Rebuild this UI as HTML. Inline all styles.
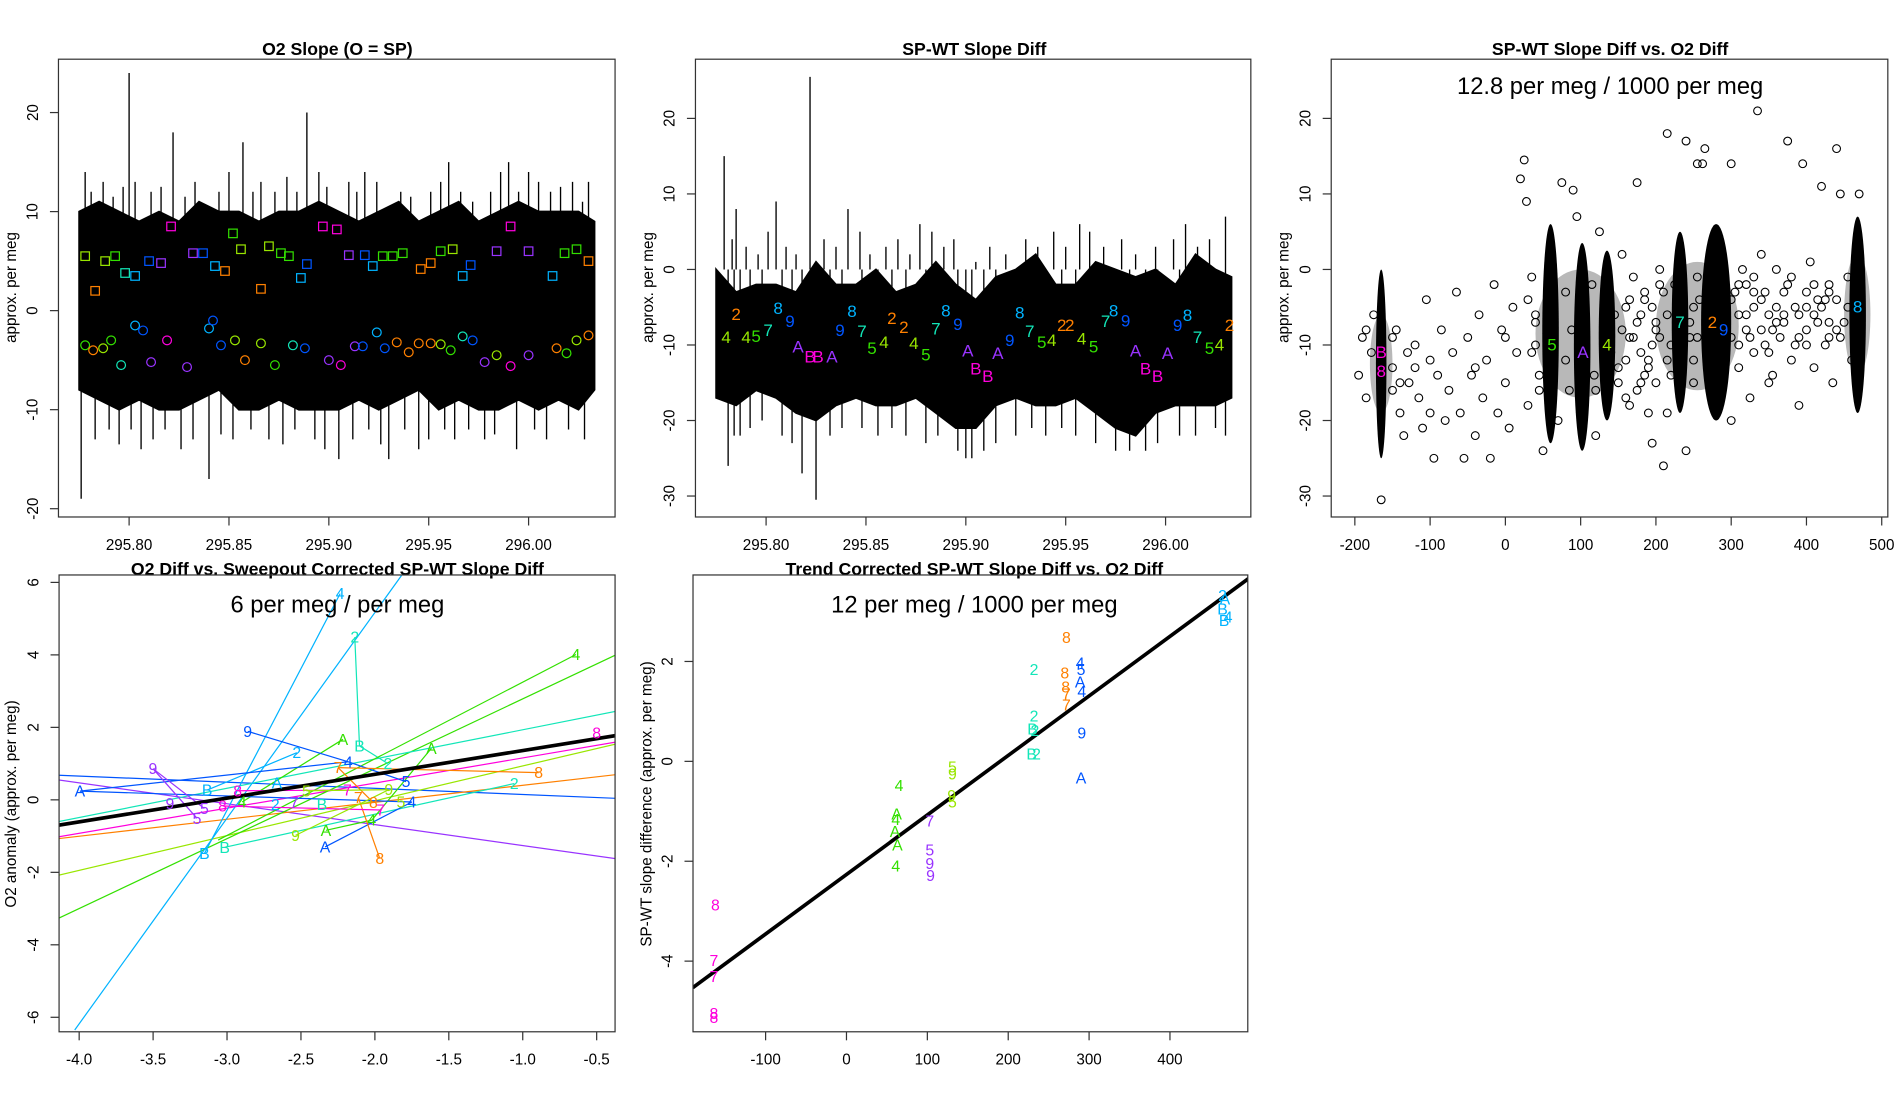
<!DOCTYPE html>
<html><head><meta charset="utf-8"><style>
html,body{margin:0;padding:0;background:#fff;}
svg{display:block;font-family:"Liberation Sans",sans-serif;}
</style></head><body>
<svg id="fig" xmlns="http://www.w3.org/2000/svg" width="1900" height="1100" viewBox="0 0 1560 903" preserveAspectRatio="none">
<defs>
<clipPath id="c1"><rect x="48" y="48.6" width="457" height="375.8"/></clipPath>
<clipPath id="c2"><rect x="571" y="48.6" width="456" height="375.8"/></clipPath>
<clipPath id="c3"><rect x="1093" y="48.6" width="457" height="375.8"/></clipPath>
<clipPath id="c4"><rect x="48.5" y="472" width="456.5" height="375"/></clipPath>
<clipPath id="c5"><rect x="569" y="472" width="455.5" height="375"/></clipPath>
</defs>
<g id="root"></g>
</svg>
<script>
// ---------- data ----------
const COL={O:'#ff8000',G:'#33e000',Y:'#99e600',T:'#12e6b8',C:'#00b3ff',B:'#0055ff',P:'#9933ff',M:'#ff00dd'};
const p1Times=[295.775,295.785,295.795,295.805,295.815,295.825,295.835,295.845,295.855,295.865,295.875,295.885,295.895,295.905,295.915,295.925,295.935,295.945,295.955,295.965,295.975,295.985,295.995,296.005,296.015,296.025,296.033];
const p1Upper=[10,11,10,9,10,9,11,10,10,9,10,10,11,10,9,10,11,9,10,11,9,10,11,10,10,10,9];
const p1Lower=[-8,-9,-10,-9,-10,-10,-9,-8,-10,-10,-9,-10,-10,-10,-9,-10,-9,-8,-10,-9,-10,-10,-9,-10,-9,-10,-8];
const p1Spikes=[[295.776,-19],[295.778,14],[295.800,24],[295.806,-14],[295.822,18],[295.840,-17],[295.857,17],[295.889,20],[295.905,-15],[295.918,14],[296.0,14],[296.03,13],[295.945,-14],[295.93,-15],[295.87,-13],[295.96,15],
[295.781,12],[295.787,13],[295.792,11.5],[295.797,12.5],[295.803,13],[295.811,12],[295.816,12.5],[295.828,11.5],[295.833,13],[295.845,12],[295.850,14],[295.862,12],[295.866,13],[295.873,12],[295.879,13.5],[295.884,12],[295.895,14],[295.899,12.5],[295.910,13],[295.914,12],[295.924,13],[295.936,12],[295.941,11.5],[295.951,12],[295.956,13],[295.966,12],[295.972,11],[295.981,12],[295.986,14],[295.990,15],[295.995,12],[296.005,13],[296.011,12],[296.016,12.5],[296.022,13],[296.027,11],
[295.783,-13],[295.790,-12],[295.795,-13.5],[295.801,-12],[295.812,-13],[295.818,-12],[295.826,-14],[295.832,-13],[295.846,-12.5],[295.852,-13],[295.861,-12],[295.877,-13.5],[295.883,-12],[295.893,-13],[295.898,-14],[295.912,-13],[295.920,-12],[295.926,-13.5],[295.938,-12],[295.950,-13],[295.958,-12],[295.963,-13],[295.970,-12],[295.978,-13],[295.983,-12.5],[295.994,-14],[296.003,-12],[296.009,-13],[296.020,-12],[296.028,-13]];
const p1Squares=[[295.778,5.5,'Y'],[295.783,2,'O'],[295.788,5,'Y'],[295.793,5.5,'G'],[295.798,3.8,'T'],[295.803,3.5,'C'],[295.810,5,'B'],[295.816,4.8,'P'],[295.821,8.5,'M'],[295.832,5.8,'P'],[295.837,5.8,'B'],[295.843,4.5,'C'],[295.848,4,'O'],[295.852,7.8,'G'],[295.856,6.2,'Y'],[295.866,2.2,'O'],[295.870,6.5,'Y'],[295.876,5.8,'G'],[295.880,5.5,'G'],[295.886,3.3,'C'],[295.889,4.7,'B'],[295.897,8.5,'M'],[295.904,8.2,'M'],[295.910,5.6,'P'],[295.918,5.6,'B'],[295.922,4.5,'C'],[295.927,5.5,'G'],[295.932,5.5,'G'],[295.937,5.8,'G'],[295.946,4.2,'O'],[295.951,4.8,'O'],[295.956,6,'G'],[295.962,6.2,'Y'],[295.967,3.5,'C'],[295.971,4.6,'B'],[295.984,6,'P'],[295.991,8.5,'M'],[296.0,6,'P'],[296.012,3.5,'C'],[296.018,5.8,'G'],[296.024,6.2,'G'],[296.03,5,'O']];
const p1Circles=[[295.778,-3.5,'G'],[295.782,-4,'O'],[295.787,-3.8,'Y'],[295.791,-3,'G'],[295.796,-5.5,'T'],[295.803,-1.5,'C'],[295.807,-2,'B'],[295.811,-5.2,'P'],[295.819,-3,'M'],[295.829,-5.7,'P'],[295.840,-1.8,'C'],[295.842,-1,'B'],[295.846,-3.5,'B'],[295.853,-3,'Y'],[295.858,-5,'O'],[295.866,-3.3,'Y'],[295.873,-5.5,'G'],[295.882,-3.5,'T'],[295.888,-3.8,'B'],[295.900,-5,'P'],[295.906,-5.5,'M'],[295.913,-3.6,'P'],[295.917,-3.6,'B'],[295.924,-2.2,'C'],[295.928,-3.8,'B'],[295.934,-3.2,'O'],[295.940,-4.2,'O'],[295.945,-3.3,'O'],[295.951,-3.3,'O'],[295.956,-3.4,'Y'],[295.961,-4,'G'],[295.967,-2.6,'T'],[295.972,-3,'B'],[295.978,-5.2,'P'],[295.984,-4.5,'Y'],[295.991,-5.6,'M'],[296.0,-4.5,'P'],[296.014,-3.8,'O'],[296.019,-4.3,'G'],[296.024,-3,'Y'],[296.03,-2.5,'O']];
const p1XTicks=[295.80,295.85,295.90,295.95,296.00];
const p1XLabels=['295.80','295.85','295.90','295.95','296.00'];
const p1YTicks=[-20,-10,0,10,20];

const p2Upper=[0,-3,-2,-2,-3,1,-2,-2,0,-3,-2,1,-2,-4,-1,0,2,-2,-2,1,0,-1,0,-2,2,0,-1];
const p2Lower=[-17,-18,-16,-17,-19,-20,-18,-17,-18,-18,-17,-19,-21,-21,-18,-17,-18,-18,-17,-19,-21,-22,-19,-18,-18,-18,-17];
const p2Spikes=[[295.779,15],[295.781,-26],[295.785,8],[295.787,-22],[295.805,9],[295.822,25.5],[295.825,-30.5],[295.818,-27],[295.841,8],[295.877,6],[296.03,7],[296.03,-22],[295.90,-25],[295.99,-24],
[295.783,4],[295.790,3],[295.796,2],[295.801,5],[295.810,3],[295.815,2],[295.829,4],[295.835,3],[295.847,5],[295.852,2],[295.860,3],[295.866,4],[295.872,2],[295.883,5],[295.889,3],[295.894,4],[295.905,1],[295.912,3],[295.920,2],[295.930,4],[295.936,3],[295.944,5],[295.950,3],[295.957,6],[295.962,5],[295.969,3],[295.978,4],[295.985,2],[295.995,3],[296.004,4],[296.010,6],[296.016,3],[296.022,4],
[295.784,-22],[295.792,-21],[295.798,-20],[295.808,-22],[295.813,-23],[295.832,-22],[295.838,-21],[295.848,-21],[295.856,-22],[295.863,-21],[295.870,-22],[295.880,-23],[295.886,-22],[295.896,-24],[295.903,-25],[295.909,-24],[295.915,-23],[295.925,-22],[295.933,-21],[295.940,-22],[295.948,-21],[295.955,-22],[295.965,-23],[295.975,-24],[295.982,-24],[295.996,-23],[296.007,-22],[296.015,-22],[296.025,-21]];
const p2Labels=[[295.780,-9.0,'4','Y'],[295.785,-6.0,'2','O'],[295.790,-9.0,'4','Y'],[295.795,-8.9,'5','G'],[295.801,-8.1,'7','T'],[295.806,-5.2,'8','C'],[295.812,-6.9,'9','B'],[295.816,-10.3,'A','P'],[295.822,-11.6,'B','M'],[295.826,-11.6,'B','M'],[295.833,-11.6,'A','P'],[295.837,-8.1,'9','B'],[295.843,-5.6,'8','C'],[295.848,-8.2,'7','T'],[295.853,-10.5,'5','G'],[295.859,-9.7,'4','Y'],[295.863,-6.5,'2','O'],[295.869,-7.7,'2','O'],[295.874,-9.8,'4','Y'],[295.880,-11.3,'5','G'],[295.885,-7.9,'7','T'],[295.890,-5.5,'8','C'],[295.896,-7.3,'9','B'],[295.901,-10.8,'A','P'],[295.905,-13.2,'B','M'],[295.911,-14.2,'B','M'],[295.916,-11.1,'A','P'],[295.922,-9.4,'9','B'],[295.927,-5.8,'8','C'],[295.932,-8.2,'7','T'],[295.938,-9.7,'5','G'],[295.943,-9.4,'4','Y'],[295.948,-7.4,'2','O'],[295.952,-7.4,'2','O'],[295.958,-9.2,'4','Y'],[295.964,-10.3,'5','G'],[295.970,-6.9,'7','T'],[295.974,-5.5,'8','C'],[295.980,-6.8,'9','B'],[295.985,-10.8,'A','P'],[295.990,-13.2,'B','M'],[295.996,-14.2,'B','M'],[296.001,-11.1,'A','P'],[296.006,-7.4,'9','B'],[296.011,-6.1,'8','C'],[296.016,-9.0,'7','T'],[296.022,-10.5,'5','G'],[296.027,-10.0,'4','Y'],[296.032,-7.4,'2','O']];
const p2YTicks=[-30,-20,-10,0,10,20];

// cluster: center x, ymin, ymax, half-width (data units)
const p3Clusters=[[-165,-25,0,7],[60,-23,6,11],[102,-24,3.5,11],[135,-20,2.5,11],[232,-19,5,11],[280,-20,6,20],[468,-19,7,11]];
// halo of dense overlapping circles around clusters: x-from, x-to, ymin, ymax
const p3Halo=[[40,160,-17,0],[200,310,-16,1],[450,485,-14,2],[-180,-150,-19,-6]];
const p3X=[-195,-190,-185,-178,-150,-145,-140,-135,-128,-120,-115,-110,-105,-100,-95,-90,-85,-80,-75,-70,-65,-60,-55,-50,-45,-40,-35,-30,-25,-20,-15,-10,-5,0,5,10,15,20,25,28,30,35,40,45,50,75,80,85,88,90,95,115,118,120,125,145,150,155,160,165,170,175,180,185,190,195,200,205,210,215,220,225,240,245,250,255,258,262,265,268,300,305,310,315,320,325,330,335,340,345,350,355,360,365,370,375,380,385,390,395,400,405,410,415,420,425,430,435,440,445,450,455,460,470,155,165,180,195,210,215,250,255,310,330,345,360,375,390,410,425,440,455,330,350,300,240,180,140,120,80,40,0,-40,-100,-150,320,300,400,430,-165,
160,170,185,190,200,205,215,220,250,255,300,310,320,330,340,350,360,370,380,390,400,410,420,430,440,160,175,185,195,205,245,310,325,340,355,370,385,400,415,430,445,60,70,150,165,175,190,200,215,30,35,40,45,-150,-140,-130,-120,-175,-185];
const p3Y=[-14,-9,-17,-11,-13,-8,-19,-22,-15,-10,-17,-21,-4,-12,-25,-14,-8,-20,-16,-11,-3,-19,-25,-9,-14,-22,-6,-17,-12,-25,-2,-19,-8,-15,-21,-5,-11,12,14.5,9,-18,-1,-7,-14,-24,11.5,-3,-16,-8,10.5,7,-2,-14,-22,5,-6,-13,2,-17,-9,-1,11.5,-11,-4,-19,-23,-7,0,-26,18,-14,-2,17,-9,-15,14,-4,14,16,-12,14,-3,-13,0,-8,-17,-5,21,2,-10,-6,-14,0,-9,-3,17,-12,-5,-18,14,-8,1,-13,-4,11,-10,-2,-15,16,10,-7,-1,-12,10,-8,-4,-6,-10,-3,-12,-5,-9,-6,-11,-3,-7,-2,-9,-6,-4,-8,-5,-1,-15,-20,-24,-15,-11,-16,-12,-10,-9,-13,-19,-16,-2,-9,-3,-7,-30.5,
-5,-9,-3,-12,-8,-2,-6,-10,-12,-1,-4,-10,-6,-3,-8,-11,-5,-7,-1,-6,-10,-2,-5,-9,-4,-12,-7,-14,-5,-9,-7,-2,-9,-4,-8,-6,-10,-5,-7,-3,-9,-17,-20,-15,-18,-16,-13,-15,-19,-4,-11,-6,-16,-9,-15,-11,-13,-6,-8];
const p3Labels=[[-165,-11,'B','M'],[-165,-13.5,'8','M'],[62,-10,'5','G'],[103,-11,'A','P'],[135,-10,'4','Y'],[232,-7,'7','T'],[275,-7,'2','O'],[290,-8,'9','B'],[468,-5,'8','C']];
const p3XTicks=[-200,-100,0,100,200,300,400,500];
const p3YTicks=[-30,-20,-10,0,10,20];

const p4Fits=[[-4.14,0.68,-0.36,0.04,'B'],[-4.14,0.55,-0.36,-1.63,'P'],[-4.14,-1.02,-0.36,1.60,'M'],[-4.14,-1.07,-0.36,0.70,'O'],[-4.14,-2.08,-0.36,1.55,'Y'],[-4.14,-3.27,-0.36,4.02,'G'],[-4.14,-0.6,-0.36,2.45,'T'],[-4.03,-6.35,-1.82,6.19,'C']];
const p4Paths=[[[-3.153,-1.48],[-2.235,5.69],'C'],[[-2.136,4.49],[-2.104,1.49],[-1.912,1.00],'T'],[[-3.016,-1.31],[-1.057,0.45],'T'],[[-3.134,0.27],[-2.528,1.30],'C'],[[-3.06,-1.11],[-0.64,4.01],'G'],[[-2.898,-0.06],[-2.216,1.67],'G'],[[-2.331,-0.84],[-2.021,-0.56],[-1.618,1.42],'G'],[[-2.860,1.89],[-2.180,1.05],[-1.789,0.50],'B'],[[-3.995,0.24],[-2.180,1.05],'B'],[[-2.337,-1.30],[-1.750,-0.06],'B'],[[-3.995,0.24],[-1.750,-0.06],'B'],[[-3.501,0.86],[-3.203,-0.51],'P'],[[-3.501,0.86],[-3.153,-0.24],'P'],[[-2.249,0.89],[-0.892,0.75],'O'],[[-2.112,0.06],[-1.967,-1.62],'O'],[[-2.249,0.89],[-2.010,-0.08],'O'],[[-2.928,0.25],[-2.186,0.27],'M'],[[-3.030,-0.17],[-1.961,-0.28],'M'],[[-2.537,-0.98],[-1.906,0.28],'Y'],[[-2.463,0.25],[-1.906,0.28],'Y']];
const p4Labels=[[-2.235,5.69,'4','C'],[-2.136,4.49,'2','T'],[-2.104,1.49,'B','T'],[-1.912,1.00,'2','T'],[-0.640,4.01,'4','G'],[-0.50,1.85,'8','M'],[-2.216,1.67,'A','G'],[-1.618,1.42,'A','G'],[-2.860,1.89,'9','B'],[-2.528,1.30,'2','C'],[-2.180,1.05,'4','B'],[-2.249,0.89,'7','O'],[-0.892,0.75,'8','O'],[-3.501,0.86,'9','P'],[-3.995,0.24,'A','B'],[-3.134,0.27,'B','C'],[-2.663,0.47,'A','C'],[-1.057,0.45,'2','T'],[-1.789,0.50,'5','B'],[-2.463,0.25,'5','Y'],[-2.186,0.27,'7','M'],[-1.906,0.28,'9','Y'],[-2.928,0.25,'8','M'],[-3.386,-0.10,'9','P'],[-3.153,-0.24,'5','P'],[-3.203,-0.51,'5','P'],[-3.030,-0.17,'8','M'],[-2.898,-0.06,'4','G'],[-2.674,-0.13,'2','C'],[-2.545,-0.08,'7','P'],[-2.358,-0.13,'B','T'],[-2.112,0.06,'7','O'],[-2.010,-0.08,'8','O'],[-1.961,-0.28,'7','M'],[-1.824,-0.06,'5','Y'],[-1.750,-0.06,'4','B'],[-2.021,-0.56,'4','G'],[-2.331,-0.84,'A','G'],[-2.337,-1.30,'A','B'],[-2.537,-0.98,'9','Y'],[-3.016,-1.31,'B','T'],[-3.153,-1.48,'B','C'],[-1.967,-1.62,'8','O']];
const p4Trend=[-4.14,-0.70,-0.36,1.78];
const p4XTicks=[-4.0,-3.5,-3.0,-2.5,-2.0,-1.5,-1.0,-0.5];
const p4XLabels=['-4.0','-3.5','-3.0','-2.5','-2.0','-1.5','-1.0','-0.5'];
const p4YTicks=[-6,-4,-2,0,2,4,6];

const p5Labels=[[465,3.32,'2','C'],[468,3.25,'A','C'],[465,3.05,'B','C'],[467,2.82,'B','C'],[472,2.89,'4','C'],[272,2.48,'8','O'],[270,1.77,'8','O'],[271,1.49,'8','O'],[272,1.35,'7','O'],[272,1.13,'7','O'],[289,1.97,'4','B'],[290,1.84,'5','B'],[289,1.59,'A','B'],[291,1.40,'4','B'],[291,0.57,'9','B'],[290,-0.33,'A','B'],[232,1.84,'2','T'],[232,0.91,'2','T'],[230,0.65,'B','T'],[233,0.62,'2','T'],[229,0.15,'B','T'],[235,0.15,'2','T'],[131,-0.11,'5','Y'],[131,-0.25,'9','Y'],[130,-0.68,'9','Y'],[131,-0.81,'5','Y'],[65,-0.48,'4','G'],[62,-1.05,'A','G'],[61,-1.16,'4','G'],[60,-1.41,'A','G'],[63,-1.68,'A','G'],[61,-2.10,'4','G'],[103,-1.19,'7','P'],[103,-1.78,'5','P'],[103,-2.05,'9','P'],[104,-2.29,'9','P'],[-162,-2.88,'8','M'],[-164,-3.99,'7','M'],[-164,-4.31,'7','M'],[-164,-5.05,'8','M'],[-164,-5.13,'8','M']];
const p5Trend=[-190,-4.53,498,3.67];
const p5XTicks=[-100,0,100,200,300,400];
const p5YTicks=[-4,-2,0,2];

// ---------- scales ----------
const x1=v=>106+(v-295.80)*1640, y1=v=>255-v*8.13;
const x2=v=>x1(v)+523, y2=v=>221.2-v*6.2;
const x3=v=>1236+v*0.618, y3=y2;
const x4=v=>65+(v+4)*121.4, y4=v=>656.6-v*29.75;
const x5=v=>695+v*0.664, y5=v=>625-v*41;

const NS='http://www.w3.org/2000/svg';
const root=document.getElementById('root');
function mk(tag,attrs,parent){const e=document.createElementNS(NS,tag);for(const k in attrs)e.setAttribute(k,attrs[k]);(parent||root).appendChild(e);return e;}
function txt(s,attrs,parent){const e=mk('text',attrs,parent);e.textContent=s;return e;}

function frame(x,y,w,h,name){
  const r=mk('rect',{x:x,y:y,width:w,height:h,fill:'none',stroke:'#333','stroke-width':1});
  
  
}
function title(s,x,y,name){
  const t=txt(s,{x:x,y:y,'text-anchor':'middle','font-size':14.5,'font-weight':'bold'});
  
  
}
function xaxis(ticks,labels,sx,yb,name){
  const g=mk('g',{});
  
  
  ticks.forEach((t,i)=>{const X=sx(t);
    mk('line',{x1:X,x2:X,y1:yb,y2:yb+7,stroke:'#333'},g);
    const l=txt(labels[i],{x:X,y:yb+27,'text-anchor':'middle','font-size':12.5},g);
    
    
  });
}
function yaxis(ticks,sy,xl,name){
  const g=mk('g',{});
  
  
  ticks.forEach(t=>{const Y=sy(t);
    mk('line',{x1:xl,x2:xl-7,y1:Y,y2:Y,stroke:'#333'},g);
    const l=txt(String(t),{x:xl-17,y:Y,'text-anchor':'middle','font-size':12.5,transform:`rotate(-90 ${xl-17} ${Y})`},g);
    
    
  });
}
function ytitle(s,x,y,name){
  const t=txt(s,{x:x,y:y,'text-anchor':'middle','font-size':12.5,transform:`rotate(-90 ${x} ${y})`});
  
  
}
function label(s,x,y,c,g,fs){
  const t=txt(s,{x:x,y:y+4.5,'text-anchor':'middle','font-size':fs||13,fill:c},g);
  
  
}
function noise(times,up,lo,spikes,sx,sy,clip,name){
  const g=mk('g',{'clip-path':`url(#${clip})`});
  
  
  let pts=times.map((t,i)=>sx(t)+','+sy(up[i]));
  for(let i=times.length-1;i>=0;i--)pts.push(sx(times[i])+','+sy(lo[i]));
  const p=mk('polygon',{points:pts.join(' '),fill:'#000',stroke:'#000','stroke-width':1.5},g);
  
  
  spikes.forEach(s=>{const l=mk('line',{x1:sx(s[0]),x2:sx(s[0]),y1:sy(0),y2:sy(s[1]),stroke:'#000','stroke-width':1.1},g);
    
    });
  return g;
}

// ---------- panel 1 ----------
title('O2 Slope (O = SP)',277,45,'panel1-title');
{const g=noise(p1Times,p1Upper,p1Lower,p1Spikes,x1,y1,'c1','panel1-series');
 p1Squares.forEach(d=>{const r=mk('rect',{x:x1(d[0])-3.5,y:y1(d[1])-3.5,width:7,height:7,fill:'none',stroke:COL[d[2]],'stroke-width':1},g);
   
   });
 p1Circles.forEach(d=>{const c=mk('circle',{cx:x1(d[0]),cy:y1(d[1]),r:3.6,fill:'none',stroke:COL[d[2]],'stroke-width':1},g);
   
   });}
frame(48,48.6,457,375.8,'panel1-plot-area');
xaxis(p1XTicks,p1XLabels,x1,424.4,'panel1-x-axis');
yaxis(p1YTicks,y1,48,'panel1-y-axis');
ytitle('approx. per meg',13,236,'panel1-y-title');

// ---------- panel 2 ----------
title('SP-WT Slope Diff',800,45,'panel2-title');
{const g=noise(p1Times,p2Upper,p2Lower,p2Spikes,x2,y2,'c2','panel2-series');
 p2Labels.forEach(d=>label(d[2],x2(d[0]),y2(d[1]),COL[d[3]],g,14));}
frame(571,48.6,456,375.8,'panel2-plot-area');
xaxis(p1XTicks,p1XLabels,x2,424.4,'panel2-x-axis');
yaxis(p2YTicks,y2,571,'panel2-y-axis');
ytitle('approx. per meg',536,236,'panel2-y-title');

// ---------- panel 3 ----------
title('SP-WT Slope Diff vs. O2 Diff',1322,45,'panel3-title');
{const g=mk('g',{'clip-path':'url(#c3)'});
 
 
 p3Halo.forEach(h=>{const e=mk('ellipse',{cx:(x3(h[0])+x3(h[1]))/2,cy:(y3(h[2])+y3(h[3]))/2,rx:(x3(h[1])-x3(h[0]))/2,ry:(y3(h[2])-y3(h[3]))/2,fill:'#000','fill-opacity':0.28},g);
   
   });
 p3X.forEach((v,i)=>{const c=mk('circle',{cx:x3(v),cy:y3(p3Y[i]),r:3.2,fill:'none',stroke:'#000','stroke-width':0.9},g);
   
   });
 p3Clusters.forEach(c=>{const cx=x3(c[0]),w=x3(c[0]+c[3])-cx,top=y3(c[2]),bot=y3(c[1]);
   const e=mk('ellipse',{cx:cx,cy:(top+bot)/2,rx:w,ry:(bot-top)/2,fill:'#000'},g);
   
   });
 p3Labels.forEach(d=>label(d[2],x3(d[0]),y3(d[1]),COL[d[3]],g,14));}
frame(1093,48.6,457,375.8,'panel3-plot-area');
{const t=txt('12.8 per meg / 1000 per meg',{x:1322,y:77,'text-anchor':'middle','font-size':19.5});
 
 }
xaxis(p3XTicks,p3XTicks.map(String),x3,424.4,'panel3-x-axis');
yaxis(p3YTicks,y3,1093,'panel3-y-axis');
ytitle('approx. per meg',1058,236,'panel3-y-title');

// ---------- panel 4 ----------
title('O2 Diff vs. Sweepout Corrected SP-WT Slope Diff',277,472,'panel4-title');
{const g=mk('g',{'clip-path':'url(#c4)'});
 
 
 p4Fits.forEach(f=>{const l=mk('line',{x1:x4(f[0]),y1:y4(f[1]),x2:x4(f[2]),y2:y4(f[3]),stroke:COL[f[4]],'stroke-width':1},g);
   
   });
 p4Paths.forEach(p=>{const c=p[p.length-1];const pts=p.slice(0,-1).map(q=>x4(q[0])+','+y4(q[1])).join(' ');
   const l=mk('polyline',{points:pts,fill:'none',stroke:COL[c],'stroke-width':1},g);
   
   });
 const tr=mk('line',{x1:x4(p4Trend[0]),y1:y4(p4Trend[1]),x2:x4(p4Trend[2]),y2:y4(p4Trend[3]),stroke:'#000','stroke-width':3},g);
 
 
 p4Labels.forEach(d=>label(d[2],x4(d[0]),y4(d[1]),COL[d[3]],g,13));}
frame(48.5,472,456.5,375,'panel4-plot-area');
{const t=txt('6 per meg / per meg',{x:277,y:503,'text-anchor':'middle','font-size':19.5});
 
 }
xaxis(p4XTicks,p4XLabels,x4,847,'panel4-x-axis');
yaxis(p4YTicks,y4,48.5,'panel4-y-axis');
ytitle('O2 anomaly (approx. per meg)',13,660,'panel4-y-title');

// ---------- panel 5 ----------
title('Trend Corrected SP-WT Slope Diff vs. O2 Diff',800,472,'panel5-title');
{const g=mk('g',{'clip-path':'url(#c5)'});
 
 
 const tr=mk('line',{x1:x5(p5Trend[0]),y1:y5(p5Trend[1]),x2:x5(p5Trend[2]),y2:y5(p5Trend[3]),stroke:'#000','stroke-width':3},g);
 
 
 p5Labels.forEach(d=>label(d[2],x5(d[0]),y5(d[1]),COL[d[3]],g,13));}
frame(569,472,455.5,375,'panel5-plot-area');
{const t=txt('12 per meg / 1000 per meg',{x:800,y:503,'text-anchor':'middle','font-size':19.5});
 
 }
xaxis(p5XTicks,p5XTicks.map(String),x5,847,'panel5-x-axis');
yaxis(p5YTicks,y5,569,'panel5-y-axis');
ytitle('SP-WT slope difference (approx. per meg)',535,660,'panel5-y-title');
</script>
</body></html>
